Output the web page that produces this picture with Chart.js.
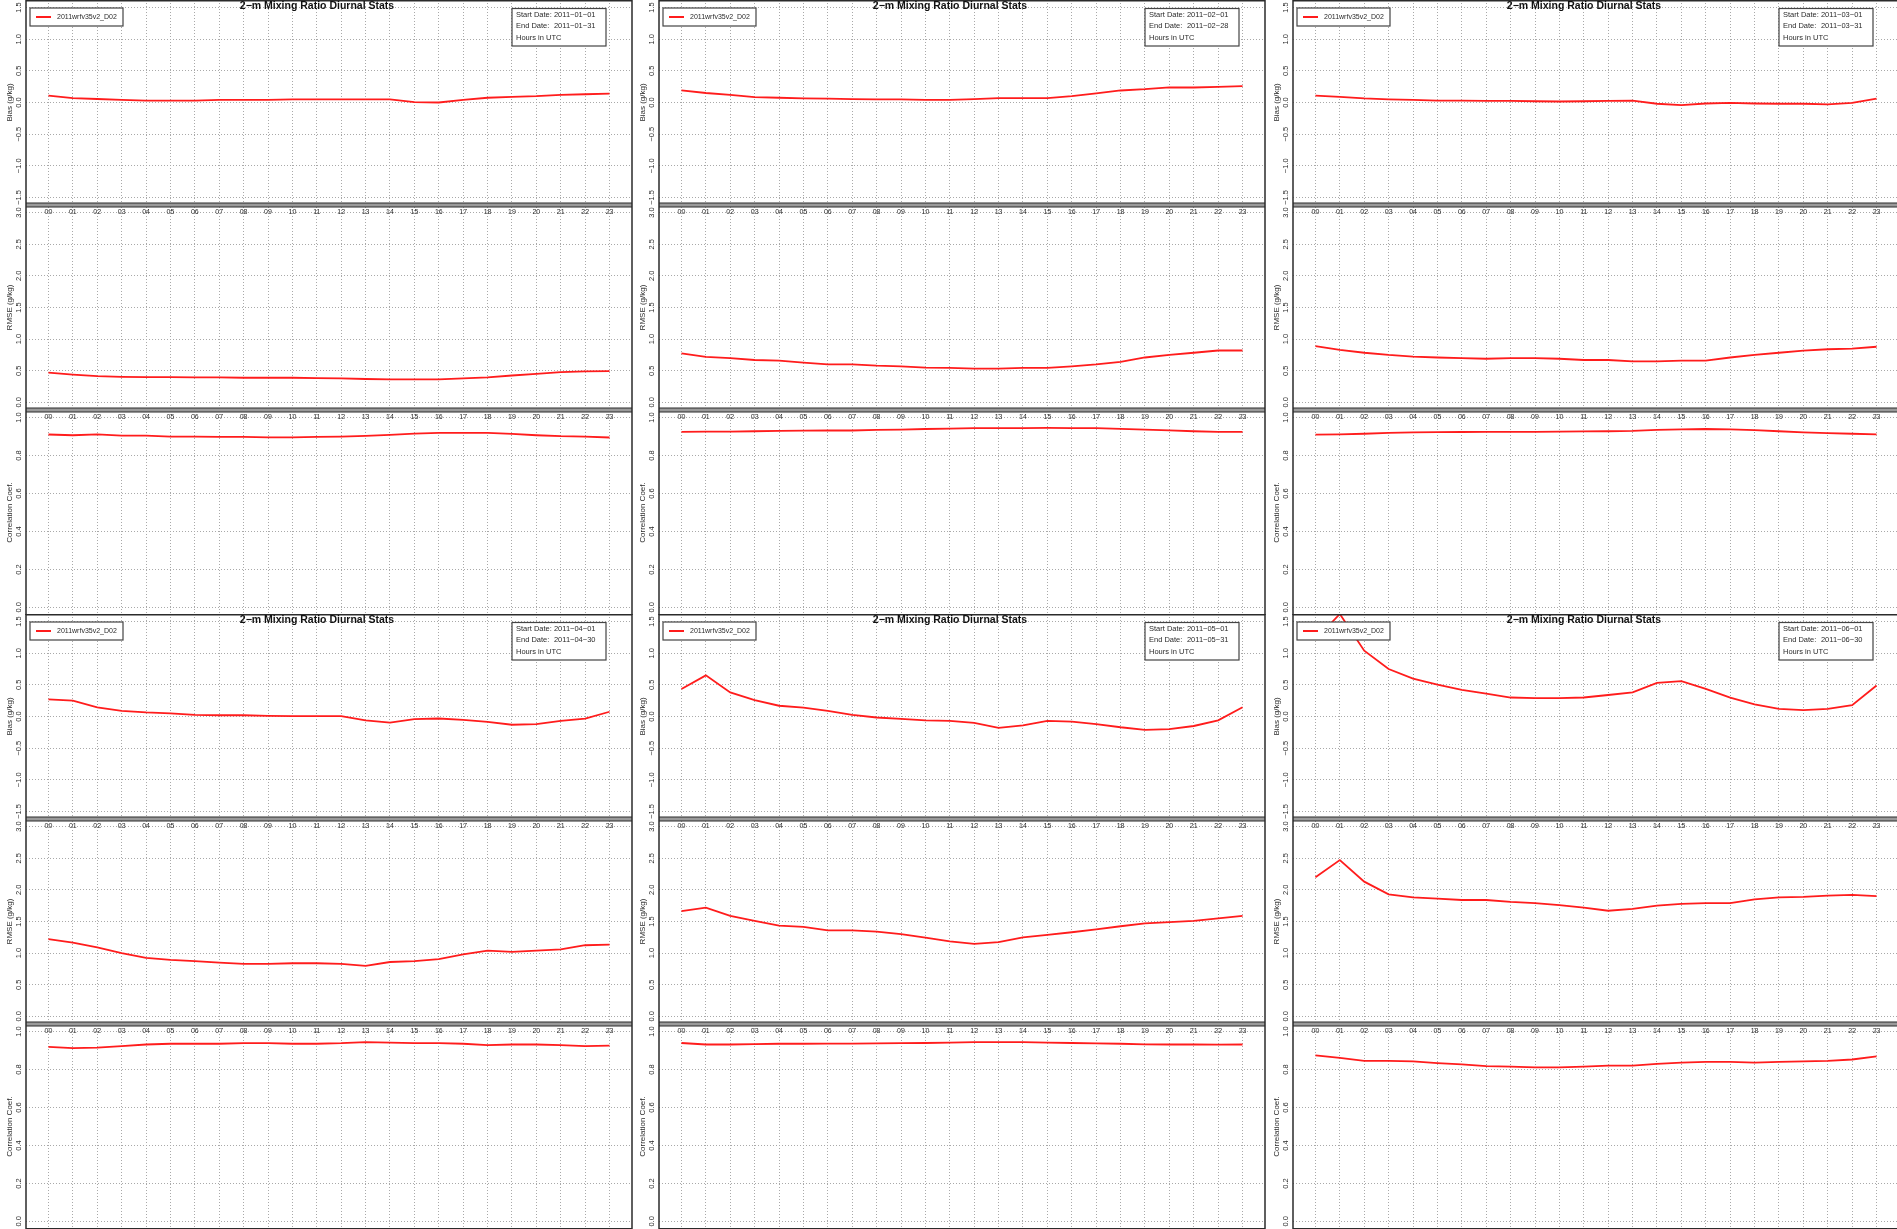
<!DOCTYPE html>
<html>
<head>
<meta charset="utf-8">
<title>2-m Mixing Ratio Diurnal Stats</title>
<script src="https://cdn.jsdelivr.net/npm/chart.js@4.4.1/dist/chart.umd.min.js"></script>
<style>
  html, body { margin: 0; padding: 0; background: #fff; width: 1897px; height: 1229px; overflow: hidden; }
  .panel { position: absolute; width: 634px; height: 615px; }
  .panel canvas { display: block; }
</style>
</head>
<body>
<script>
// ---- data -------------------------------------------------------------
const hours = [0,1,2,3,4,5,6,7,8,9,10,11,12,13,14,15,16,17,18,19,20,21,22,23];
const hourLabels = hours.map(h => String(h).padStart(2, '0'));
const biasTicks = [-1.5, -1.0, -0.5, 0.0, 0.5, 1.0, 1.5];
const rmseTicks = [0.0, 0.5, 1.0, 1.5, 2.0, 2.5, 3.0];
const corrTicks = [0.0, 0.2, 0.4, 0.6, 0.8, 1.0];

const chartTitle = '2\u2212m Mixing Ratio Diurnal Stats';
const seriesName = '2011wrfv35v2_D02';
const startDates = ['2011-01-01', '2011-02-01', '2011-03-01', '2011-04-01', '2011-05-01', '2011-06-01'];
const endDates   = ['2011-01-31', '2011-02-28', '2011-03-31', '2011-04-30', '2011-05-31', '2011-06-30'];

const biasJan = [0.11,0.07,0.055,0.04,0.03,0.03,0.03,0.04,0.04,0.04,0.05,0.05,0.05,0.05,0.05,0.005,0.0,0.04,0.075,0.09,0.10,0.12,0.13,0.14];
const rmseJan = [0.47,0.44,0.415,0.405,0.40,0.40,0.395,0.395,0.39,0.39,0.39,0.385,0.38,0.37,0.363,0.363,0.363,0.38,0.395,0.425,0.45,0.48,0.49,0.495];
const corrJan = [0.911,0.907,0.912,0.905,0.905,0.900,0.900,0.898,0.898,0.896,0.896,0.898,0.900,0.904,0.909,0.916,0.919,0.919,0.919,0.914,0.907,0.902,0.900,0.895];

const biasFeb = [0.19,0.15,0.12,0.086,0.075,0.065,0.06,0.054,0.05,0.05,0.043,0.043,0.054,0.07,0.07,0.07,0.10,0.145,0.19,0.21,0.24,0.237,0.247,0.258];
const rmseFeb = [0.775,0.72,0.70,0.67,0.66,0.63,0.60,0.60,0.58,0.57,0.55,0.545,0.535,0.535,0.545,0.545,0.57,0.60,0.64,0.71,0.75,0.785,0.82,0.82];
const corrFeb = [0.925,0.926,0.926,0.928,0.930,0.931,0.933,0.932,0.935,0.937,0.940,0.942,0.944,0.944,0.945,0.946,0.945,0.944,0.941,0.937,0.933,0.928,0.925,0.925];

const biasMar = [0.11,0.09,0.065,0.05,0.043,0.03,0.03,0.027,0.027,0.02,0.016,0.02,0.027,0.03,-0.02,-0.04,-0.016,-0.005,-0.016,-0.02,-0.02,-0.03,-0.005,0.06];
const rmseMar = [0.89,0.83,0.785,0.75,0.725,0.71,0.70,0.69,0.70,0.70,0.69,0.67,0.67,0.65,0.65,0.66,0.66,0.71,0.75,0.785,0.82,0.84,0.85,0.88];
const corrMar = [0.910,0.912,0.915,0.920,0.922,0.923,0.924,0.925,0.925,0.925,0.926,0.927,0.928,0.930,0.935,0.938,0.940,0.938,0.934,0.928,0.922,0.918,0.915,0.912];

const biasApr = [0.27,0.25,0.145,0.09,0.065,0.05,0.027,0.02,0.02,0.01,0.005,0.005,0.005,-0.06,-0.097,-0.043,-0.032,-0.054,-0.086,-0.13,-0.12,-0.07,-0.032,0.075];
const rmseApr = [1.22,1.165,1.09,1.0,0.925,0.895,0.875,0.85,0.83,0.83,0.84,0.84,0.83,0.80,0.86,0.875,0.905,0.98,1.04,1.02,1.04,1.06,1.125,1.135];
const corrApr = [0.920,0.913,0.916,0.923,0.932,0.936,0.936,0.936,0.939,0.939,0.936,0.936,0.939,0.945,0.942,0.939,0.939,0.936,0.929,0.932,0.932,0.929,0.923,0.926];

const biasMay = [0.435,0.65,0.38,0.26,0.17,0.14,0.09,0.027,-0.016,-0.038,-0.06,-0.07,-0.10,-0.18,-0.14,-0.07,-0.08,-0.12,-0.17,-0.21,-0.20,-0.15,-0.06,0.145];
const rmseMay = [1.665,1.72,1.59,1.51,1.435,1.415,1.36,1.36,1.34,1.30,1.245,1.185,1.145,1.175,1.25,1.29,1.33,1.375,1.425,1.47,1.49,1.51,1.55,1.59];
const corrMay = [0.940,0.932,0.932,0.934,0.936,0.936,0.937,0.937,0.938,0.939,0.940,0.942,0.945,0.945,0.944,0.942,0.940,0.938,0.936,0.933,0.932,0.932,0.931,0.932];

const biasJun = [1.215,1.62,1.04,0.75,0.60,0.505,0.42,0.36,0.30,0.29,0.29,0.30,0.34,0.38,0.53,0.56,0.435,0.30,0.19,0.12,0.10,0.12,0.18,0.49];
const rmseJun = [2.20,2.47,2.13,1.93,1.88,1.86,1.84,1.84,1.81,1.79,1.76,1.72,1.67,1.70,1.75,1.78,1.79,1.79,1.85,1.88,1.89,1.91,1.92,1.90];
const corrJun = [0.875,0.862,0.846,0.846,0.843,0.834,0.827,0.818,0.815,0.811,0.811,0.815,0.821,0.821,0.830,0.837,0.840,0.840,0.837,0.840,0.843,0.846,0.853,0.869];

const biasByMonth = [biasJan, biasFeb, biasMar, biasApr, biasMay, biasJun];
const rmseByMonth = [rmseJan, rmseFeb, rmseMar, rmseApr, rmseMay, rmseJun];
const corrByMonth = [corrJan, corrFeb, corrMar, corrApr, corrMay, corrJun];

// ---- layout / style ---------------------------------------------------
const FONT = '"Liberation Sans", Arial, Helvetica, sans-serif';
const INK = '#2b2b2b';
const GRID = '#a9a9a9';
const LINE_RED = 'rgb(255,28,28)';
const PANEL_W = 634, PANEL_H = 615;
const colLeft = [0, 633, 1267];
const rowTop = [0, 614];

Chart.defaults.font.family = FONT;
Chart.defaults.color = INK;

const fmtTick = v => (v < 0 ? '\u2212' : '') + Math.abs(v).toFixed(1);
const dash = s => s.replace(/-/g, '\u2212');

function yAxis(title, min, max, tickVals, weight, pad) {
  return {
    type: 'linear', position: 'left', stack: 'panel', stackWeight: 1, weight,
    min, max, bounds: 'data',
    afterBuildTicks: s => { s.ticks = tickVals.map(v => ({ value: v })); },
    afterFit: s => { s.width = 26; s.paddingTop = 0; s.paddingBottom = 0; },
    ticks: {
      autoSkip: false, minRotation: 90, maxRotation: 90, crossAlign: 'center',
      padding: pad, font: { size: 7.5 }, color: INK, callback: v => fmtTick(v)
    },
    title: { display: true, text: title, font: { size: 8 }, color: INK, padding: { top: 4.5, bottom: 0 } },
    grid: { color: GRID, lineWidth: 1, drawTicks: false },
    border: { display: false, dash: [1, 2] }
  };
}

// frame, separators, hour labels, legend and date boxes of one panel
const panelDecor = {
  id: 'panelDecor',
  beforeDatasetsDraw(chart) {
    const ctx = chart.ctx;
    const xs = chart.scales.x;
    ctx.save();
    ctx.font = '7px ' + FONT;
    ctx.fillStyle = INK;
    ctx.textAlign = 'center';
    ctx.textBaseline = 'middle';
    for (const s of [chart.scales.yRmse, chart.scales.yCorr]) {
      hours.forEach((h, i) => ctx.fillText(hourLabels[i], xs.getPixelForValue(h), s.top + 7.5));
    }
    ctx.restore();
  },
  afterDatasetsDraw(chart, args, opts) {
    const ctx = chart.ctx;
    const { left, right, top, bottom } = chart.chartArea;
    const xs = chart.scales.x;
    const subs = [chart.scales.yBias, chart.scales.yRmse, chart.scales.yCorr];
    ctx.save();

    // separators between stacked plots
    for (const s of subs.slice(0, 2)) {
      const b = s.bottom;
      ctx.fillStyle = '#9a9a9a';
      ctx.fillRect(left, b - 2, right - left, 4);
      ctx.strokeStyle = INK;
      ctx.lineWidth = 1;
      ctx.beginPath();
      ctx.moveTo(left, b - 2); ctx.lineTo(right, b - 2);
      ctx.moveTo(left, b + 2); ctx.lineTo(right, b + 2);
      ctx.stroke();
    }

    // outer frame
    ctx.strokeStyle = INK;
    ctx.lineWidth = 1.5;
    ctx.beginPath();
    ctx.moveTo(left, top + 0.75); ctx.lineTo(right, top + 0.75);
    ctx.moveTo(left, bottom - 0.25); ctx.lineTo(right, bottom - 0.25);
    ctx.moveTo(left, top); ctx.lineTo(left, bottom);
    ctx.moveTo(right, top); ctx.lineTo(right, bottom);
    ctx.stroke();

    // title
    ctx.fillStyle = '#111';
    ctx.font = 'bold 10.5px ' + FONT;
    ctx.textAlign = 'center';
    ctx.textBaseline = 'middle';
    ctx.fillText(chartTitle, PANEL_W / 2, top + 6);

    // legend box
    const lx = left + 4, ly = top + 8, lw = 93, lh = 18;
    ctx.fillStyle = '#fff';
    ctx.fillRect(lx, ly, lw, lh);
    ctx.strokeStyle = '#444';
    ctx.lineWidth = 1.2;
    ctx.strokeRect(lx, ly, lw, lh);
    ctx.strokeStyle = LINE_RED;
    ctx.lineWidth = 2;
    ctx.beginPath();
    ctx.moveTo(lx + 6, ly + lh / 2); ctx.lineTo(lx + 21, ly + lh / 2);
    ctx.stroke();
    ctx.fillStyle = INK;
    ctx.font = '7px ' + FONT;
    ctx.textAlign = 'left';
    ctx.fillText(seriesName, lx + 27, ly + lh / 2);

    // date box
    const bw = 94, bh = 37.5, bx = right - 26 - bw, by = top + 8.5;
    ctx.fillStyle = '#fff';
    ctx.fillRect(bx, by, bw, bh);
    ctx.strokeStyle = '#444';
    ctx.lineWidth = 1.2;
    ctx.strokeRect(bx, by, bw, bh);
    ctx.fillStyle = INK;
    ctx.font = '7.5px ' + FONT;
    const k1 = 'Start Date: ', k2 = 'End Date: ';
    const dx = bx + 4 + ctx.measureText(k1).width;
    ctx.fillText(k1, bx + 4, by + 6.5);
    ctx.fillText(dash(opts.start), dx, by + 6.5);
    ctx.fillText(k2, bx + 4, by + 17.5);
    ctx.fillText(dash(opts.end), dx, by + 17.5);
    ctx.fillText('Hours in UTC', bx + 4, by + 29);

    ctx.restore();
  }
};

// ---- build the six monthly panels -------------------------------------
for (let m = 0; m < 6; m++) {
  const div = document.createElement('div');
  div.className = 'panel';
  div.style.left = colLeft[m % 3] + 'px';
  div.style.top = rowTop[Math.floor(m / 3)] + 'px';
  const cv = document.createElement('canvas');
  cv.width = PANEL_W; cv.height = PANEL_H;
  div.appendChild(cv);
  document.body.appendChild(div);

  const toPts = arr => hours.map((h, i) => ({ x: h, y: arr[i] }));
  const lineDs = (arr, axis) => ({
    label: seriesName, data: toPts(arr), yAxisID: axis,
    borderColor: LINE_RED, borderWidth: 1.8, pointRadius: 0, tension: 0, fill: false
  });

  new Chart(cv, {
    type: 'line',
    data: {
      datasets: [
        lineDs(biasByMonth[m], 'yBias'),
        lineDs(rmseByMonth[m], 'yRmse'),
        lineDs(corrByMonth[m], 'yCorr')
      ]
    },
    options: {
      responsive: false,
      animation: false,
      devicePixelRatio: 1,
      events: [],
      layout: { padding: { left: 0, top: 0, right: PANEL_W - 632, bottom: 0 }, autoPadding: false },
      plugins: {
        legend: { display: false },
        tooltip: { enabled: false },
        title: { display: false },
        panelDecor: { start: startDates[m], end: endDates[m] }
      },
      scales: {
        x: {
          type: 'linear', min: -0.92, max: 23.92, bounds: 'data',
          afterBuildTicks: s => { s.ticks = hours.map(v => ({ value: v })); },
          afterFit: s => { s.height = 0; s.paddingLeft = 0; s.paddingRight = 0; },
          ticks: { display: false },
          grid: { color: GRID, lineWidth: 1, drawTicks: false },
          border: { display: false, dash: [1, 2] }
        },
        yBias: yAxis('Bias (g/kg)', -1.62, 1.62, biasTicks, 3, -0.4),
        yRmse: yAxis('RMSE (g/kg)', -0.12, 3.12, rmseTicks, 2, 1.8),
        yCorr: yAxis('Correlation Coef.', -0.04, 1.04, corrTicks, 1, 1.8)
      }
    },
    plugins: [panelDecor]
  });
}
</script>
</body>
</html>
